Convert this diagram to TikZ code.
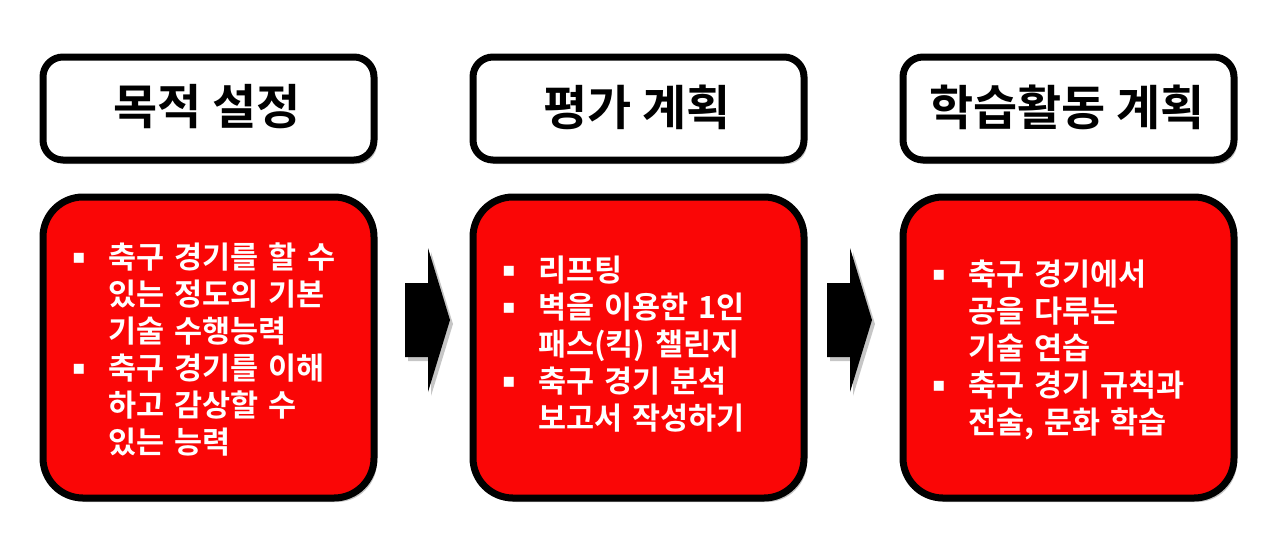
\documentclass[tikz,border=0pt]{standalone}
\usepackage{fontspec}
\setmainfont{Noto Sans CJK KR}[BoldFont={Noto Sans CJK KR Bold}]
\newfontfamily\symf{DejaVu Sans}
\usetikzlibrary{shadows}
\definecolor{boxred}{RGB}{250,6,6}
\tikzset{
  shad/.style={drop shadow={opacity=0.45,shadow xshift=3pt,shadow yshift=-4pt}},
  headbox/.style={draw=black,line width=7pt,fill=white,rounded corners=20pt,shad},
  bodybox/.style={draw=black,line width=7pt,fill=boxred,rounded corners=40pt,shad},
  headtext/.style={font=\bfseries\fontsize{48}{52}\selectfont,text=black},
  bodytext/.style={font=\bfseries\fontsize{30.5}{37}\selectfont,text=white,align=left,anchor=base west,inner sep=0pt,text width=300pt},
  arr/.style={fill=black,draw=none,shad}
}
\newcommand{\bul}{\makebox[36pt][l]{\symf\fontsize{20}{20}\selectfont\raisebox{5pt}{▪}}}
\newcommand{\ind}{\hspace*{36pt}}
\begin{document}
\begin{tikzpicture}[x=1pt,y=-1pt]
\useasboundingbox (0,0) rectangle (1273,547);
% header boxes
\draw[headbox] (43,57) rectangle (374,160);
\draw[headbox] (473,57) rectangle (804,160);
\draw[headbox] (903,57) rectangle (1234,160);
\node[headtext] (h1) at (207,107) {목적 설정};
\node[headtext] (h2) at (637,107) {평가 계획};
\node[headtext] (h3) at (1067,107) {학습활동 계획};
% body boxes
\draw[bodybox] (43,197) rectangle (374,498);
\draw[bodybox] (473,197) rectangle (804,498);
\draw[bodybox] (903,197) rectangle (1234,498);
% arrows
\fill[arr] (405,283) -- (428,283) -- (428,248) -- (450,320) -- (428,392) -- (428,357) -- (405,357) -- cycle;
\fill[arr] (827,283) -- (850,283) -- (850,248) -- (872,320) -- (850,392) -- (850,357) -- (827,357) -- cycle;
% body text
\node[bodytext] (t1) at (72,268) {\bul 축구 경기를 할 수\\\ind 있는 정도의 기본\\\ind 기술 수행능력\\\bul 축구 경기를 이해\\\ind 하고 감상할 수\\\ind 있는 능력};
\node[bodytext] (t2) at (502,281) {\bul 리프팅\\\bul 벽을 이용한 1인\\\ind 패스(킥) 챌린지\\\bul 축구 경기 분석\\\ind 보고서 작성하기};
\node[bodytext] (t3) at (932,285) {\bul 축구 경기에서\\\ind 공을 다루는\\\ind 기술 연습\\\bul 축구 경기 규칙과\\\ind 전술, 문화 학습};
\end{tikzpicture}
\end{document}
